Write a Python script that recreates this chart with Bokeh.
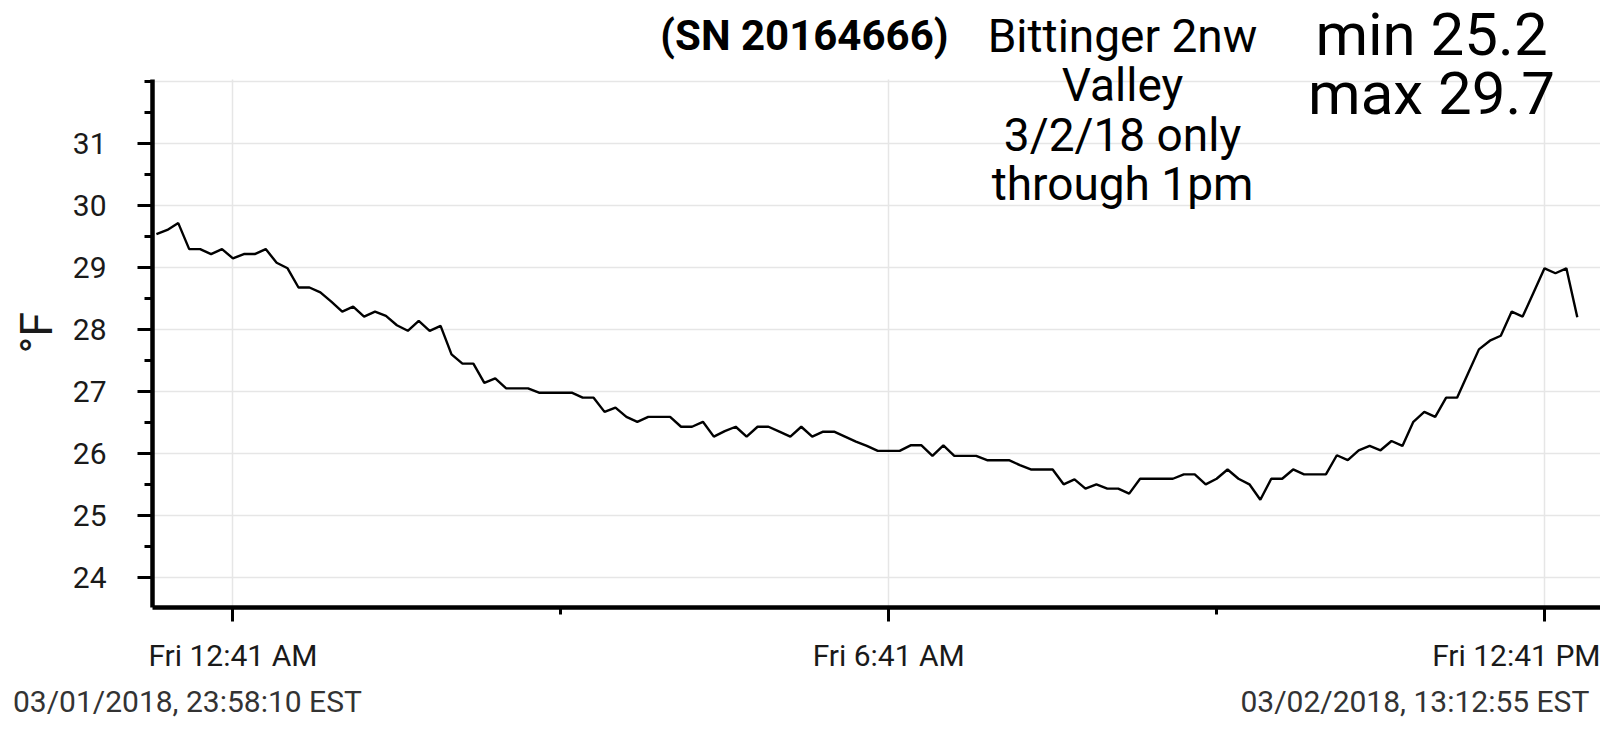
import pandas as pd
from bokeh.plotting import figure
from bokeh.models import (ColumnDataSource, Range1d, FixedTicker, Label,
                          LinearAxis, BoxAnnotation, Title)
from bokeh.embed import file_html
from bokeh.resources import INLINE

# ---------------- data ----------------
temps_f = [
    29.54, 29.61, 29.72, 29.30, 29.30, 29.22, 29.30, 29.15, 29.22, 29.22,
    29.30, 29.08, 28.99, 28.68, 28.68, 28.60, 28.45, 28.29, 28.37, 28.21,
    28.29, 28.22, 28.07, 27.98, 28.14, 27.98, 28.06, 27.60, 27.45, 27.45,
    27.14, 27.21, 27.05, 27.05, 27.05, 26.98, 26.98, 26.98, 26.98, 26.90,
    26.90, 26.67, 26.74, 26.59, 26.51, 26.59, 26.59, 26.59, 26.43, 26.43,
    26.51, 26.27, 26.36, 26.43, 26.27, 26.43, 26.43, 26.35, 26.27, 26.43,
    26.27, 26.35, 26.35, 26.27, 26.19, 26.12, 26.04, 26.04, 26.04, 26.13,
    26.13, 25.96, 26.13, 25.96, 25.96, 25.96, 25.89, 25.89, 25.89, 25.81,
    25.74, 25.74, 25.74, 25.50, 25.58, 25.43, 25.50, 25.43, 25.43, 25.35,
    25.59, 25.59, 25.59, 25.59, 25.66, 25.66, 25.50, 25.59, 25.74, 25.59,
    25.50, 25.25, 25.59, 25.59, 25.74, 25.66, 25.66, 25.66, 25.97, 25.89,
    26.05, 26.12, 26.05, 26.20, 26.12, 26.51, 26.67, 26.59, 26.90, 26.90,
    27.29, 27.68, 27.82, 27.90, 28.29, 28.21, 28.60, 28.99, 28.91, 28.99,
    28.20,
]
first_reading = "2018-03-01 23:59:00"
reading_interval = "6min"

x_tick_times = ["2018-03-02 00:41", "2018-03-02 06:41", "2018-03-02 12:41"]
x_tick_labels = ["Fri 12:41 AM", "Fri 6:41 AM", "Fri 12:41 PM"]
x_minor_times = ["2018-03-02 03:41", "2018-03-02 09:41"]
view_start = "2018-03-01 23:56:51"
view_end = "2018-03-02 13:11:44"

y_ticks = [24, 25, 26, 27, 28, 29, 30, 31]
y_grid_ticks = [24, 25, 26, 27, 28, 29, 30, 31, 32]
y_minor_ticks = [24.0, 24.5, 25.0, 25.5, 26.0, 26.5, 27.0, 27.5, 28.0,
                 28.5, 29.0, 29.5, 30.0, 30.5, 31.0, 31.5, 32.0]
y_axis_bounds = (23.51, 32.04)
y_view = (23.51, 33.316)

title_sn = "(SN 20164666)"
title_lines = ["Bittinger 2nw", "Valley", "3/2/18 only", "through 1pm"]
stats_lines = ["min 25.2", "max 29.7"]
range_start_text = "03/01/2018, 23:58:10 EST"
range_end_text = "03/02/2018, 13:12:55 EST"
y_label = "°F"


def ms(t):
    return float(pd.Timestamp(t).value // 10**6)


times = pd.date_range(first_reading, periods=len(temps_f), freq=reading_interval)
src = ColumnDataSource(dict(t=times, temp=temps_f))

FONT = "Roboto"
W, H = 1600, 729
LEFT, BOTTOM = 149, 122
FRAME_W = W - LEFT

x0, x1 = ms(view_start), ms(view_end)

p = figure(width=W, height=H, output_backend="svg", toolbar_location=None,
           x_axis_type="datetime",
           x_range=Range1d(x0, x1),
           y_range=Range1d(*y_view),
           min_border_left=LEFT, min_border_right=0, min_border_top=0,
           min_border_bottom=BOTTOM)
p.background_fill_color = "white"
p.border_fill_color = "white"
p.outline_line_color = None

# grids
p.xgrid.grid_line_color = "#e6e6e6"
p.xgrid.grid_line_width = 1.5
p.ygrid.grid_line_color = "#e6e6e6"
p.ygrid.grid_line_width = 1.5
p.ygrid.ticker = FixedTicker(ticks=y_grid_ticks)
try:
    p.xgrid.cross_bounds = y_axis_bounds
except Exception:
    p.add_layout(BoxAnnotation(bottom=y_axis_bounds[1], fill_color="white",
                               fill_alpha=1, line_color=None, level="underlay"))

p.line("t", "temp", source=src, line_color="black", line_width=2.4)

# x axis
xt = [ms(t) for t in x_tick_times]
p.xaxis.ticker = FixedTicker(ticks=xt, minor_ticks=[ms(t) for t in x_minor_times])
p.xaxis.major_label_overrides = {v: lab for v, lab in zip(xt, x_tick_labels)}
# y axis
p.yaxis.ticker = FixedTicker(ticks=y_ticks, minor_ticks=y_minor_ticks)
p.yaxis.bounds = y_axis_bounds

for ax in (p.xaxis[0], p.yaxis[0]):
    ax.axis_line_width = 4.5
    ax.axis_line_color = "black"
    ax.major_tick_line_width = 3
    ax.major_tick_line_color = "black"
    ax.minor_tick_line_width = 3
    ax.minor_tick_line_color = "black"
    ax.major_tick_in = 0
    ax.minor_tick_in = 0
    ax.major_label_text_font = FONT
    ax.major_label_text_font_size = "30px"
    ax.major_label_text_color = "#1a1a1a"

p.xaxis.major_tick_out = 14
p.xaxis.minor_tick_out = 7
p.xaxis.major_label_standoff = 16
p.yaxis.major_tick_out = 15
p.yaxis.minor_tick_out = 8
p.yaxis.major_label_standoff = 31

# y axis title, centred on the drawn part of the axis
p.add_layout(Title(text=y_label, align="left", offset=254, standoff=14,
                   text_font=FONT, text_font_style="normal",
                   text_font_size="45px", text_color="#1a1a1a"), "left")


def px_to_x(px):
    """page pixel column -> x data value (for placing text only)"""
    return x0 + (px - LEFT) / FRAME_W * (x1 - x0)


# start / end timestamps of the view, printed under the axis
xs_text = [px_to_x(184), px_to_x(1414)]
range_axis = LinearAxis(
    ticker=FixedTicker(ticks=xs_text, minor_ticks=[]),
    major_label_overrides={xs_text[0]: range_start_text, xs_text[1]: range_end_text},
    axis_line_color=None, major_tick_line_color=None, minor_tick_line_color=None,
    major_tick_out=0, major_tick_in=0, minor_tick_out=0, minor_tick_in=0,
    major_label_standoff=8, major_label_text_font=FONT,
    major_label_text_font_size="30px", major_label_text_color="#333333")
p.add_layout(range_axis, "below")

# annotations (screen units relative to the frame's bottom-left)
FB = H - BOTTOM  # frame bottom in page pixels


def lab(text, px, py, size, align="center", style="normal"):
    p.add_layout(Label(x=px - LEFT, y=FB - py, x_units="screen", y_units="screen",
                       text=text, text_font=FONT, text_font_style=style,
                       text_font_size=size, text_align=align,
                       text_baseline="middle", text_color="black"))


lab(title_sn, 945, 35, "42px", align="right", style="bold")
for i, line in enumerate(title_lines):
    lab(line, 1119, 35 + 49.5 * i, "46px")
lab(stats_lines[0], 1428, 34, "60px")
lab(stats_lines[1], 1428, 93, "60px")

open("out.html", "w").write(file_html(p, INLINE))
